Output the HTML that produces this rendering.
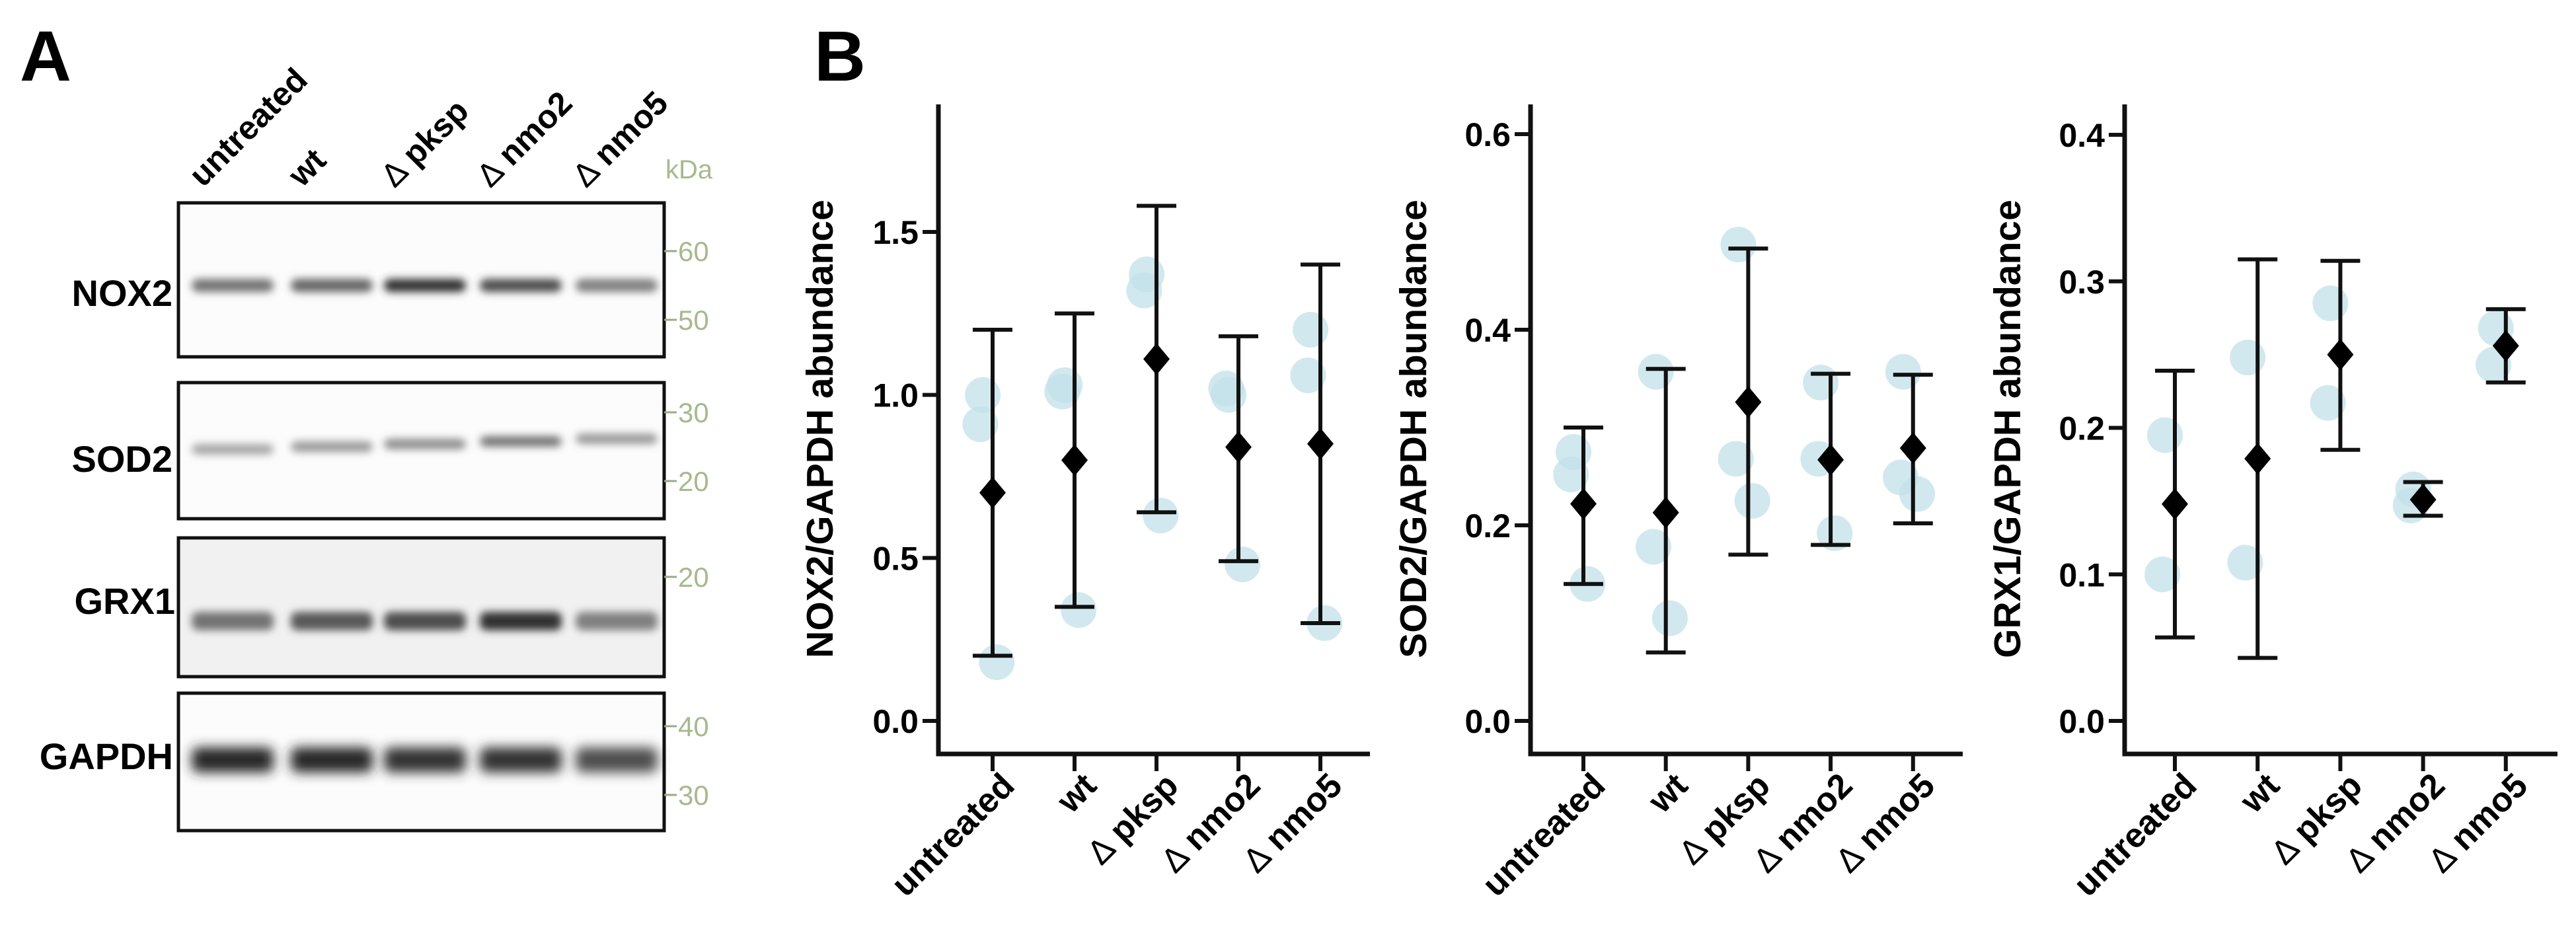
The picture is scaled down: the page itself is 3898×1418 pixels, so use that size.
<!DOCTYPE html>
<html><head><meta charset="utf-8"><style>
html,body{margin:0;padding:0;background:#fff}
svg{display:block}
text{font-family:"Liberation Sans",Arial,sans-serif}
</style></head><body>
<svg id="fig" width="3898" height="1418" viewBox="0 0 3898 1418" xmlns="http://www.w3.org/2000/svg">
<defs>
<filter id="blur" x="-20%" y="-100%" width="140%" height="300%"><feGaussianBlur stdDeviation="6"/></filter>
<filter id="blur2" x="-20%" y="-100%" width="140%" height="300%"><feGaussianBlur stdDeviation="9"/></filter>
</defs>
<text x="30" y="122" font-size="108" font-weight="bold">A</text>
<text x="1232" y="122" font-size="108" font-weight="bold">B</text>
<g id="blot"></g>
<g id="charts"></g>
</svg>
<script>
const NS="http://www.w3.org/2000/svg";
function mk(parent,tag,attrs,txt){const e=document.createElementNS(NS,tag);for(const k in attrs)e.setAttribute(k,attrs[k]);if(txt!==undefined)e.textContent=txt;parent.appendChild(e);return e;}
function label(t,n){
  if(n.charAt(0)==='Δ'){
    mk(t,'tspan',{'font-weight':'normal'},'∆ ');
    mk(t,'tspan',{},n.slice(1));
  } else t.textContent=n;
}

// ---- Panel A: western blot ----
const laneNames=["untreated","wt","Δpksp","Δnmo2","Δnmo5"];
const blotRows=["NOX2","SOD2","GRX1","GAPDH"];
const bandIntensity=[[0.55,0.6,0.8,0.7,0.5],[0.35,0.4,0.45,0.55,0.4],[0.55,0.65,0.7,0.8,0.5],[0.85,0.85,0.8,0.8,0.7]];
const kdaMarks=[["60","50"],["30","20"],["20"],["40","30"]];
const blot=document.getElementById('blot');
const laneX=[352,502,643,788,933];
const boxes=[{y:307,h:233,ly:443,lx:261,band:432,bh:20,mk:[380,484]},
             {y:579,h:206,ly:694,lx:261,band:672,bh:16,mk:[624,728]},
             {y:814,h:210,ly:909,lx:265,band:940,bh:28,mk:[873]},
             {y:1049,h:208,ly:1144,lx:262,band:1150,bh:38,mk:[1099,1203]}];
laneNames.forEach((n,i)=>{
  const t=mk(blot,'text',{x:laneX[i]-45,y:285,'font-size':50,'font-weight':'bold',transform:`rotate(-45 ${laneX[i]-45} 285)`});
  label(t,n);
  
  
});
const kd=mk(blot,'text',{x:1007,y:270,'font-size':40,fill:'#a7b98f'},'kDa');


boxes.forEach((b,r)=>{
  const g=mk(blot,'g',{});
  
  
  mk(g,'rect',{x:270,y:b.y,width:735,height:b.h,fill:r==2?'#f1f1f1':'#fcfcfc'});
  bandIntensity[r].forEach((v,i)=>{
    const c=Math.round(255*(1-v));
    const by=b.band+(r==1?(2-i)*4:0);
    const band=mk(g,'rect',{x:laneX[i]-62,y:by-b.bh/2,width:124,height:b.bh,rx:10,fill:`rgb(${c},${c},${c})`,filter:r==3?'url(#blur2)':'url(#blur)'});
    
    
  });
  mk(g,'rect',{x:270,y:b.y,width:735,height:b.h,fill:'none',stroke:'#111',"stroke-width":5});
  const lab=mk(g,'text',{x:b.lx,y:b.ly+20,'font-size':56,'font-weight':'bold','text-anchor':'end'},blotRows[r]);
  
  
  b.mk.forEach((y,j)=>{
    mk(g,'line',{x1:1005,x2:1024,y1:y,y2:y,stroke:'#9aa98a','stroke-width':3});
    const t=mk(g,'text',{x:1026,y:y+15,'font-size':42,fill:'#a7b98f'},kdaMarks[r][j]);
    
    
  });
});

// ---- Panel B: charts ----
const categories=["untreated","wt","Δpksp","Δnmo2","Δnmo5"];
const noxMean=[0.70,0.80,1.11,0.84,0.85];
const noxLow=[0.20,0.35,0.64,0.49,0.30];
const noxHigh=[1.20,1.25,1.58,1.18,1.40];
const noxPoints=[[1.00,0.91,0.18],[1.03,1.01,0.34],[1.37,1.32,0.63],[1.00,1.02,0.48],[1.20,1.06,0.30]];
const noxTicks=["0.0","0.5","1.0","1.5"];
const sodMean=[0.222,0.213,0.326,0.267,0.279];
const sodLow=[0.14,0.07,0.17,0.18,0.202];
const sodHigh=[0.30,0.36,0.483,0.355,0.354];
const sodPoints=[[0.275,0.252,0.14],[0.357,0.178,0.105],[0.487,0.268,0.225],[0.346,0.268,0.192],[0.357,0.249,0.232]];
const sodTicks=["0.0","0.2","0.4","0.6"];
const grxMean=[0.148,0.179,0.250,0.151,0.256];
const grxLow=[0.057,0.043,0.185,0.140,0.231];
const grxHigh=[0.239,0.315,0.314,0.163,0.281];
const grxPoints=[[0.195,0.100],[0.248,0.108],[0.285,0.217],[0.158,0.147],[0.268,0.243]];
const grxTicks=["0.0","0.1","0.2","0.3","0.4"];
const jitter=[-0.12,-0.15,0.05];

const charts=[
 {name:'nox2',title:'NOX2/GAPDH abundance',x0:1420,x1:2073,cat0:1502,step:124,ymax:1.5,ytop:351,mean:noxMean,lo:noxLow,hi:noxHigh,pts:noxPoints,ticks:noxTicks,labX:1260},
 {name:'sod2',title:'SOD2/GAPDH abundance',x0:2316,x1:2970,cat0:2396,step:124.7,ymax:0.6,ytop:203,mean:sodMean,lo:sodLow,hi:sodHigh,pts:sodPoints,ticks:sodTicks,labX:2158},
 {name:'grx1',title:'GRX1/GAPDH abundance',x0:3215,x1:3870,cat0:3291,step:125.2,ymax:0.4,ytop:204,mean:grxMean,lo:grxLow,hi:grxHigh,pts:grxPoints,ticks:grxTicks,labX:3057}
];
const root=document.getElementById('charts');
const Y0=1091, AX=1141, TOP=158;
charts.forEach(c=>{
  const g=mk(root,'g',{});
  
  
  const yS=v=>Y0-(v/c.ymax)*(Y0-c.ytop);
  const xS=i=>c.cat0+i*c.step;
  c.pts.forEach((arr,i)=>arr.forEach((v,j)=>{
    const p=mk(g,'circle',{cx:xS(i)+jitter[j]*c.step,cy:yS(v),r:27,fill:'#c2e0e8','fill-opacity':0.75});
    
    
  }));
  const ya=mk(g,'path',{d:`M${c.x0} ${TOP} V${AX} H${c.x1}`,fill:'none',stroke:'#111','stroke-width':7});
  
  
  c.ticks.forEach((t,k)=>{
    const v=parseFloat(t), y=yS(v);
    mk(g,'line',{x1:c.x0-24,x2:c.x0,y1:y,y2:y,stroke:'#111','stroke-width':6});
    const tl=mk(g,'text',{x:c.x0-30,y:y+18,'font-size':50,'font-weight':'bold','text-anchor':'end'},t);
    
    
  });
  const yl=mk(g,'text',{x:c.labX,y:649,'font-size':57,'font-weight':'bold','text-anchor':'middle',transform:`rotate(-90 ${c.labX} 649)`},c.title);
  
  
  categories.forEach((n,i)=>{
    const x=xS(i);
    mk(g,'line',{x1:x,x2:x,y1:AX,y2:AX+26,stroke:'#111','stroke-width':6});
    const xl=mk(g,'text',{x:x+36,y:1192,'font-size':52,'font-weight':'bold','text-anchor':'end',transform:`rotate(-45 ${x+36} 1192)`});
    label(xl,n);
    
    
    const eb=mk(g,'g',{stroke:'#111','stroke-width':6});
    
    
    mk(eb,'line',{x1:x,x2:x,y1:yS(c.lo[i]),y2:yS(c.hi[i])});
    mk(eb,'line',{x1:x-30,x2:x+30,y1:yS(c.lo[i]),y2:yS(c.lo[i])});
    mk(eb,'line',{x1:x-30,x2:x+30,y1:yS(c.hi[i]),y2:yS(c.hi[i])});
    const my=yS(c.mean[i]);
    const m=mk(g,'path',{d:`M${x} ${my-24} L${x+20} ${my} L${x} ${my+24} L${x-20} ${my} Z`,fill:'#000'});
    
    
  });
});
</script>
</body></html>
